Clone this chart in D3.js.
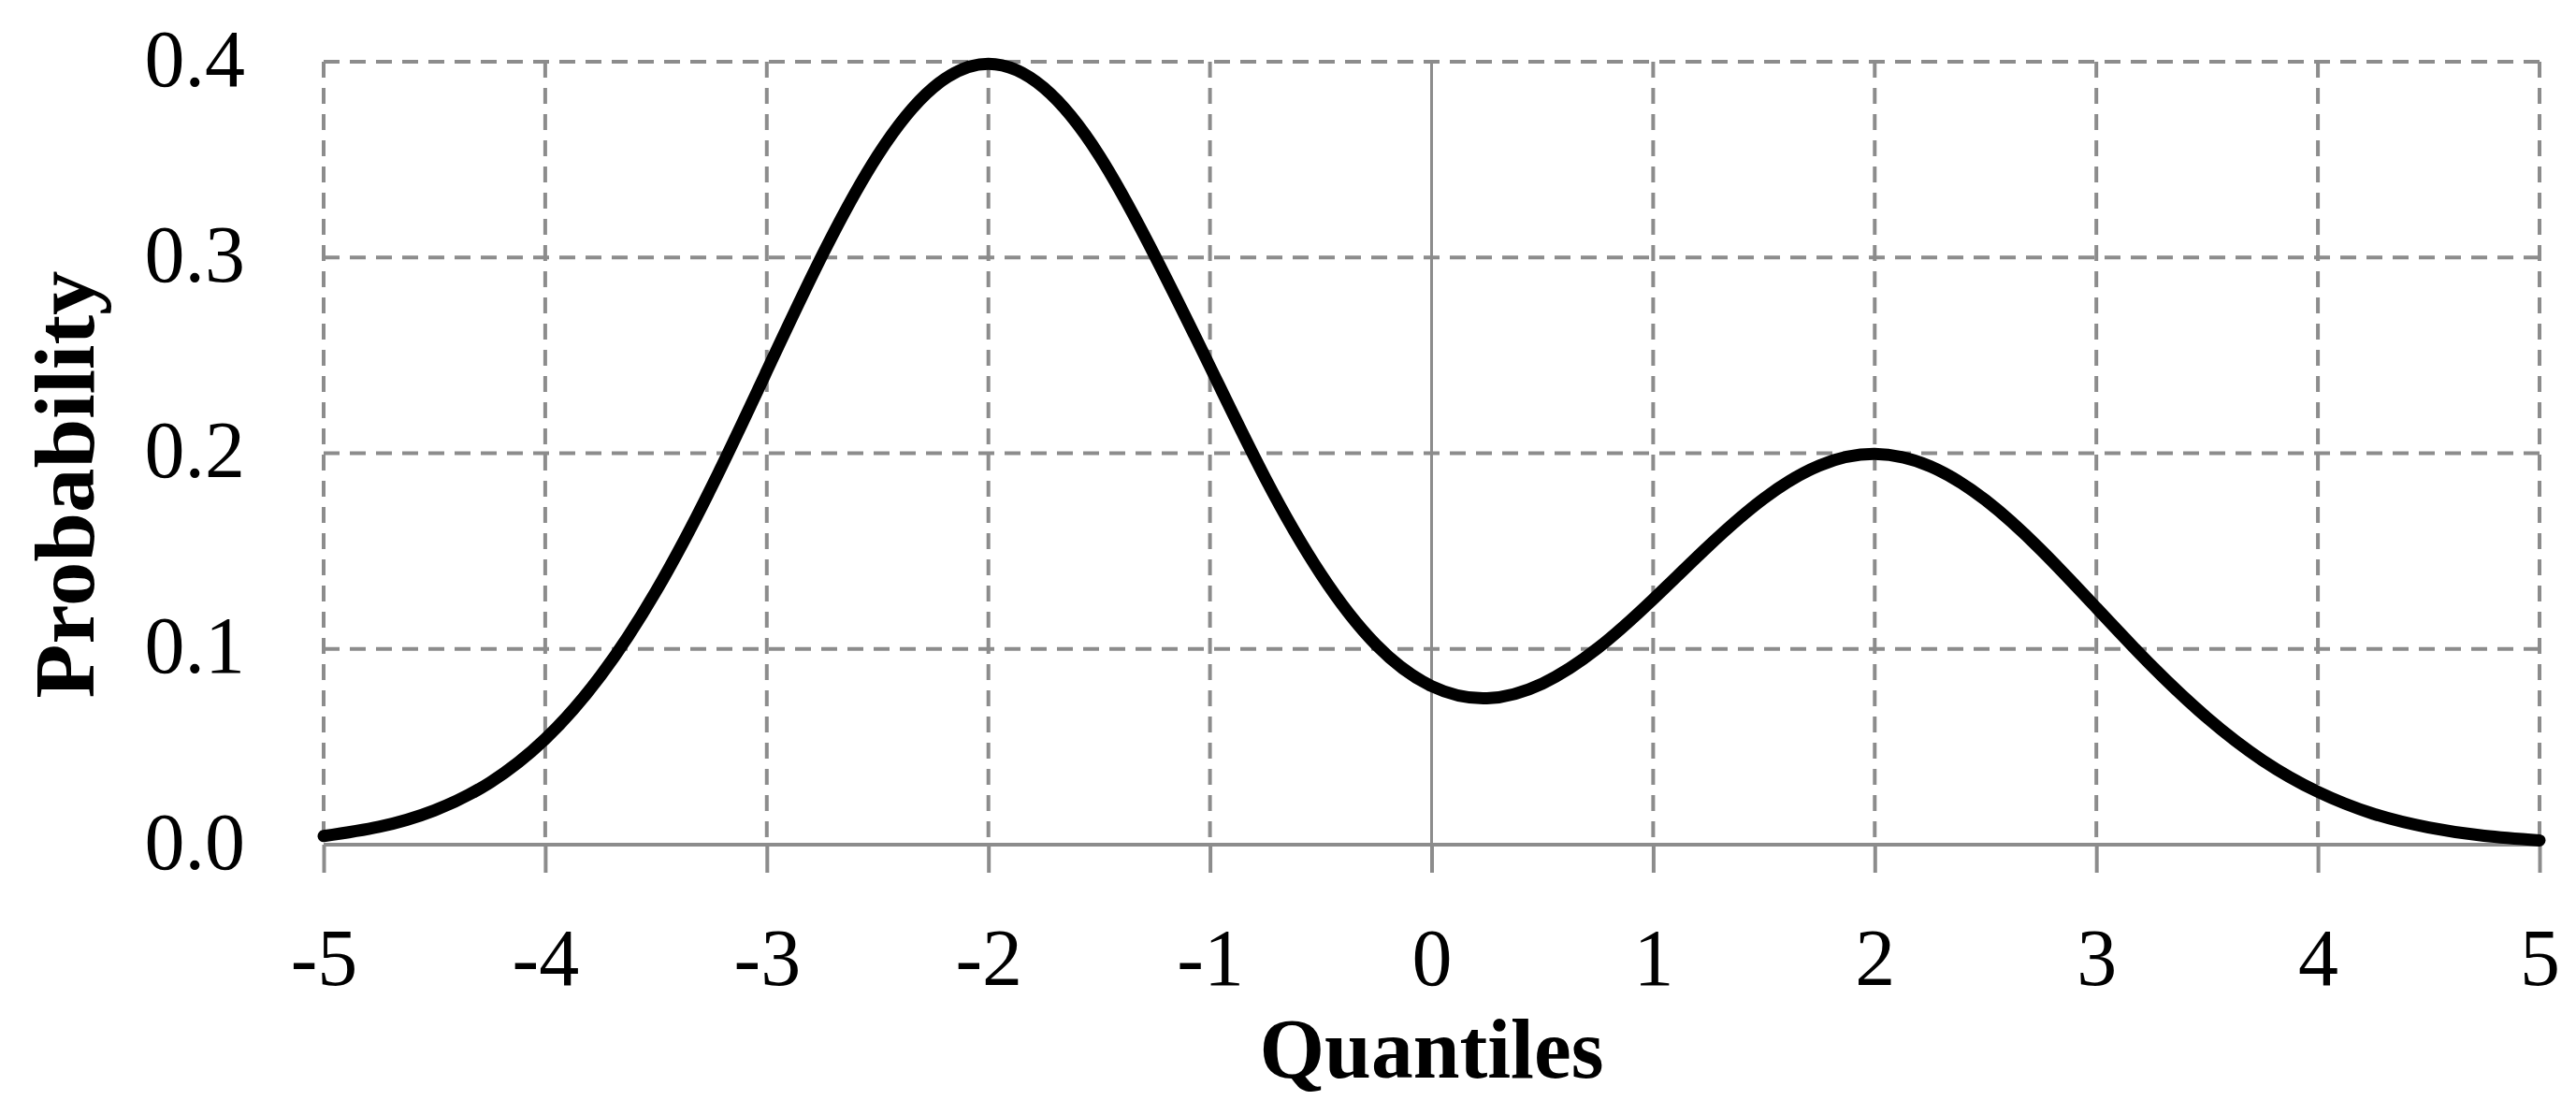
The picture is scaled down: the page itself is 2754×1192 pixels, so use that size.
<!DOCTYPE html>
<html><head><meta charset="utf-8">
<script src="https://cdn.jsdelivr.net/npm/d3@7"></script>
<style>html,body{margin:0;padding:0;background:#fff;}svg{display:block;}</style>
</head><body>
<script>
const quantiles = [-5,-4.75,-4.5,-4.25,-4,-3.75,-3.5,-3.25,-3,-2.75,-2.5,-2.25,-2,-1.75,-1.5,-1.25,-1,-0.75,-0.5,-0.25,0,0.25,0.5,0.75,1,1.25,1.5,1.75,2,2.25,2.5,2.75,3,3.25,3.5,3.75,4,4.25,4.5,4.75,5];
const probability = [0.0044,0.0091,0.0175,0.0317,0.0540,0.0863,0.1295,0.1826,0.2420,0.3011,0.3521,0.3867,0.3989,0.3867,0.3521,0.3011,0.2442,0.1871,0.1383,0.1021,0.0810,0.0748,0.0823,0.1004,0.1254,0.1526,0.1769,0.1937,0.1996,0.1933,0.1760,0.1506,0.1210,0.0913,0.0648,0.0431,0.0270,0.0158,0.0088,0.0045,0.0022];
const xTicks = [-5,-4,-3,-2,-1,0,1,2,3,4,5];
const xTickLabels = ["-5","-4","-3","-2","-1","0","1","2","3","4","5"];
const yTicks = [0.0,0.1,0.2,0.3,0.4];
const yTickLabels = ["0.0","0.1","0.2","0.3","0.4"];
const xTitle = "Quantiles";
const yTitle = "Probability";

const W = 2754, H = 1192;
const L = 346, R = 2715, T = 66, B = 903;
const grid = "#8c8c8c";
const font = "'Liberation Serif','Times New Roman',serif";

const svg = d3.select("body").append("svg").attr("width", W).attr("height", H);
const x = d3.scaleLinear().domain([-5,5]).range([L,R]);
const y = d3.scaleLinear().domain([0,0.4]).range([B,T]);

// horizontal gridlines
svg.append("g").selectAll("line").data(yTicks.filter(d => d > 0)).join("line")
  .attr("x1", L).attr("x2", R).attr("y1", d => y(d)).attr("y2", d => y(d))
  .attr("stroke", grid).attr("stroke-width", 4).attr("stroke-dasharray", "17,11");
// vertical gridlines
svg.append("g").selectAll("line").data(xTicks.filter(d => d !== 0)).join("line")
  .attr("x1", d => x(d)).attr("x2", d => x(d)).attr("y1", T).attr("y2", B)
  .attr("stroke", grid).attr("stroke-width", 4).attr("stroke-dasharray", "17,11");
// zero vertical axis
svg.append("line").attr("x1", x(0)).attr("x2", x(0)).attr("y1", T).attr("y2", B)
  .attr("stroke", grid).attr("stroke-width", 3);

// x axis
const xAxis = d3.axisBottom(x).tickValues(xTicks).tickSize(30).tickFormat((d,i) => xTickLabels[i]);
const gx = svg.append("g").attr("transform", `translate(0,${B})`).call(xAxis);
gx.select(".domain").attr("stroke", grid).attr("stroke-width", 4).attr("d", `M${L},0H${R}`);
gx.selectAll(".tick line").attr("stroke", grid).attr("stroke-width", 4);
gx.selectAll(".tick text").attr("font-family", font).attr("font-size", 86).attr("fill", "#000")
  .attr("y", 0).attr("dy", 0).attr("transform", "translate(0,150)");

// y axis labels
const yAxis = d3.axisLeft(y).tickValues(yTicks).tickSize(0).tickFormat((d,i) => yTickLabels[i]);
const gy = svg.append("g").attr("transform", `translate(${L},0)`).call(yAxis);
gy.select(".domain").remove();
gy.selectAll(".tick text").attr("font-family", font).attr("font-size", 86).attr("fill", "#000")
  .attr("x", -84).attr("dy", 0).attr("y", 25);

// curve
const line = d3.line().x((d,i) => x(quantiles[i])).y(d => y(d)).curve(d3.curveNatural);
svg.append("path").datum(probability).attr("d", line)
  .attr("fill", "none").attr("stroke", "#000").attr("stroke-width", 13).attr("stroke-linecap", "round");

// titles
svg.append("text").attr("x", (L+R)/2).attr("y", 1152).attr("text-anchor", "middle")
  .attr("font-family", font).attr("font-weight", "bold").attr("font-size", 90)
  .attr("textLength", 368).attr("lengthAdjust", "spacingAndGlyphs").text(xTitle);
svg.append("text").attr("transform", `translate(100,518) rotate(-90)`).attr("text-anchor", "middle")
  .attr("font-family", font).attr("font-weight", "bold").attr("font-size", 90)
  .attr("textLength", 457).attr("lengthAdjust", "spacingAndGlyphs").text(yTitle);
</script>
</body></html>
